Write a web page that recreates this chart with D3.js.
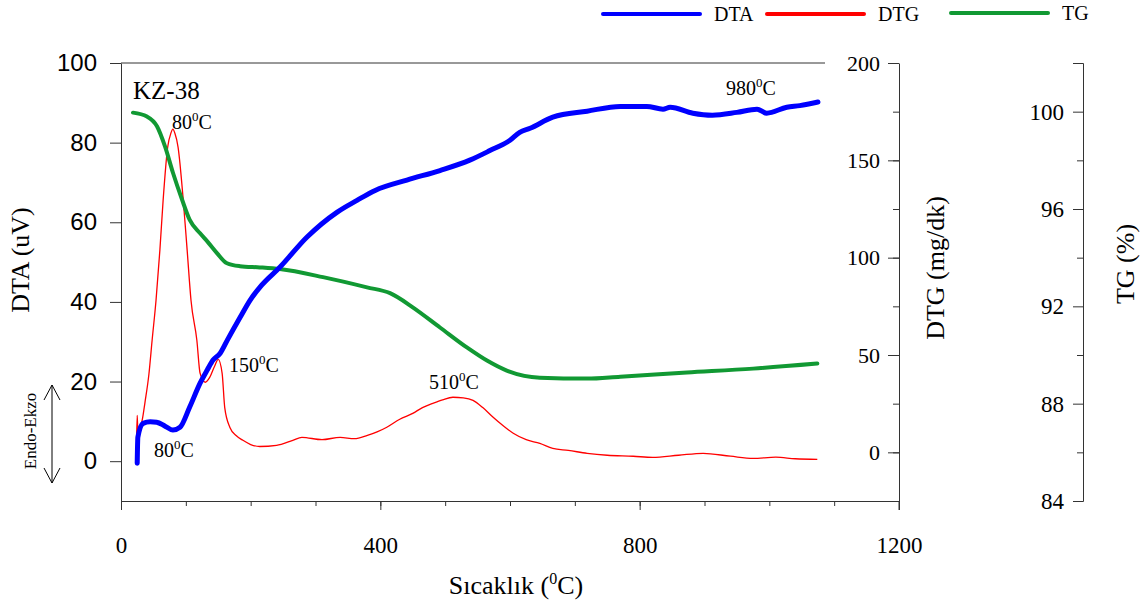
<!DOCTYPE html>
<html>
<head>
<meta charset="utf-8">
<script src="https://cdn.jsdelivr.net/npm/d3@7"></script>
<style>
  body { margin: 0; background: #fff; }
</style>
</head>
<body>
<div id="chart"></div>
<script>
// temperature (°C) and readings for each curve
const dtaTemp = [25, 26, 34, 45, 55, 68, 80, 91, 106, 122, 133, 142, 153, 164, 184, 199, 217, 245, 287, 333, 364, 392, 441, 492, 538, 569, 600, 615, 631, 666, 719, 770, 811, 836, 847, 882, 912, 950, 981, 996, 1027, 1047, 1075];
const dtaVal  = [-0.5, 6, 9.5, 9.9, 9.8, 8.8, 7.8, 8.5, 13.6, 19.6, 22.9, 25.4, 27.1, 30.4, 36.2, 40.4, 44.2, 48.7, 56.3, 62.5, 65.5, 68, 70.6, 73, 75.6, 78, 80.6, 82.6, 83.6, 86.4, 87.9, 89.1, 89.1, 88.4, 88.9, 87.4, 86.9, 87.6, 88.4, 87.4, 88.9, 89.3, 90.2];

const dtgTemp = [24, 25, 26, 29, 33, 37, 43, 48, 54, 60, 65, 72, 77, 80, 83, 88, 96, 102, 108, 117, 122, 130, 137, 144, 150, 156, 160, 168, 178, 188, 200, 214, 240, 265, 279, 310, 338, 360, 380, 395, 410, 430, 450, 465, 481, 496, 512, 528, 543, 558, 574, 590, 605, 625, 646, 666, 690, 719, 750, 790, 820, 860, 898, 940, 975, 1010, 1040, 1074];
const dtgVal  = [6, 19, 11, 12, 17, 25.7, 40, 57.6, 78, 104, 129.6, 156.8, 164, 166, 164, 156.8, 129.6, 104, 78, 57.6, 40.6, 36, 38.6, 44, 47.8, 40.6, 23, 12.8, 8.5, 6.2, 4, 3, 3.6, 6.2, 7.7, 6.5, 7.7, 7, 8.7, 10.5, 12.9, 17, 20, 23, 25.2, 27, 28.3, 28, 26.7, 23, 18, 13.5, 9.8, 6.5, 4.6, 2, 1, -0.5, -1.5, -2, -2.6, -1.5, -0.5, -2, -3.1, -2.5, -3.3, -3.6];

const tgTemp = [18.5, 40, 55.5, 68, 80, 94, 106, 122, 134, 148, 163.5, 183.5, 214, 245, 311.6, 379.5, 415, 450, 492, 534, 564.5, 595, 646, 719, 770, 873, 975, 1074];
const tgVal  = [99.96, 99.8, 99.4, 98.56, 97.5, 96.4, 95.55, 95.0, 94.64, 94.19, 93.77, 93.65, 93.6, 93.53, 93.2, 92.78, 92.54, 91.96, 91.13, 90.3, 89.77, 89.36, 89.07, 89.03, 89.11, 89.28, 89.44, 89.65];

const xTicks = [0, 400, 800, 1200];
const dtaTicks = [0, 20, 40, 60, 80, 100];
const dtgTicks = [0, 50, 100, 150, 200];
const tgTicks = [84, 88, 92, 96, 100];

const legendNames = ["DTA", "DTG", "TG"];
const legendColors = ["#0000ff", "#ff0000", "#119933"];

// peak labels
const peaks = [
  { text: "80", x: 172, y: 129 },
  { text: "150", x: 229, y: 372 },
  { text: "80", x: 154, y: 457 },
  { text: "510", x: 429, y: 389 },
  { text: "980", x: 726, y: 95 }
];

(function () {
  const width = 1140, height = 608;
  const mLeft = 121, mRight = 899, mTop = 63, mBottom = 501;
  const serif = "'Liberation Serif', 'Times New Roman', serif";
  const sans = "'Liberation Sans', Arial, sans-serif";

  const svg = d3.select("#chart").append("svg")
    .attr("width", width)
    .attr("height", height)
    .attr("font-family", serif);

  const x = d3.scaleLinear().domain([0, 1200]).range([mLeft, mRight]);
  const yDta = d3.scaleLinear().domain([-10, 100]).range([mBottom, mTop]);
  const yDtg = d3.scaleLinear().domain([-25, 200]).range([mBottom, mTop]);
  const yTg = d3.scaleLinear().domain([84, 102]).range([mBottom, mTop]);
  const fmt = d3.format("d");

  const styleAxis = (g, family, size) => {
    g.attr("font-family", family);
    g.selectAll("text").attr("font-size", size).attr("font-family", family).attr("fill", "#000");
  };

  // x axis
  svg.append("g")
    .attr("transform", `translate(0,${mBottom})`)
    .call(d3.axisBottom(x).tickValues(d3.range(0, 1201, 100)).tickSize(5).tickFormat(""))
    .call(g => g.select(".domain").remove());
  svg.append("g")
    .attr("transform", `translate(0,${mBottom})`)
    .call(d3.axisBottom(x).tickValues(xTicks).tickFormat(fmt).tickSize(9).tickSizeOuter(0).tickPadding(27))
    .call(g => styleAxis(g, serif, 23));

  // left DTA axis
  svg.append("g")
    .attr("transform", `translate(${mLeft},0)`)
    .call(d3.axisLeft(yDta).tickValues(dtaTicks).tickFormat(fmt).tickSize(11).tickSizeOuter(0).tickPadding(13))
    .call(g => styleAxis(g, sans, 24));

  // top border, stops short of DTG labels
  svg.append("line").attr("x1", mLeft).attr("x2", 825).attr("y1", mTop).attr("y2", mTop)
    .attr("stroke", "#333");

  // DTG axis (inside, at x = 1200)
  svg.append("g")
    .attr("transform", `translate(${mRight},0)`)
    .call(d3.axisLeft(yDtg).tickValues(d3.range(-25, 201, 25)).tickSize(6).tickFormat(""))
    .call(g => g.select(".domain").remove());
  svg.append("g")
    .attr("transform", `translate(${mRight},0)`)
    .call(d3.axisLeft(yDtg).tickValues(dtgTicks).tickFormat(fmt).tickSize(11).tickSizeOuter(0).tickPadding(8))
    .call(g => styleAxis(g, serif, 22));
  svg.append("line").attr("x1", mRight).attr("x2", mRight).attr("y1", mBottom).attr("y2", mBottom + 9)
    .attr("stroke", "#333");

  // TG axis
  const tgX = 1083;
  svg.append("g")
    .attr("transform", `translate(${tgX},0)`)
    .call(d3.axisLeft(yTg).tickValues(d3.range(86, 103, 4)).tickSize(6).tickFormat(""))
    .call(g => g.select(".domain").remove());
  svg.append("g")
    .attr("transform", `translate(${tgX},0)`)
    .call(d3.axisLeft(yTg).tickValues(tgTicks).tickFormat(fmt).tickSize(10).tickSizeOuter(10).tickPadding(9))
    .call(g => styleAxis(g, serif, 23));

  svg.selectAll(".domain, .tick line").attr("stroke", "#333");

  // axis titles
  svg.append("text").attr("transform", "translate(29,260) rotate(-90)")
    .attr("text-anchor", "middle").attr("font-size", 26).text("DTA (uV)");
  svg.append("text").attr("transform", "translate(944,268) rotate(-90)")
    .attr("text-anchor", "middle").attr("font-size", 26).text("DTG (mg/dk)");
  svg.append("text").attr("transform", "translate(1134,264) rotate(-90)")
    .attr("text-anchor", "middle").attr("font-size", 26).text("TG (%)");

  const xt = svg.append("text").attr("x", 516).attr("y", 594)
    .attr("text-anchor", "middle").attr("font-size", 26);
  xt.append("tspan").text("Sıcaklık (");
  xt.append("tspan").attr("font-size", 16).attr("dy", -10).text("0");
  xt.append("tspan").attr("dy", 10).text("C)");

  // Endo-Ekzo marker
  svg.append("text").attr("transform", "translate(36,431) rotate(-90)")
    .attr("text-anchor", "middle").attr("font-size", 17).text("Endo-Ekzo");
  const arr = svg.append("g").attr("stroke", "#000").attr("fill", "none").attr("stroke-width", 1);
  arr.append("line").attr("x1", 52).attr("x2", 52).attr("y1", 385).attr("y2", 483);
  arr.append("path").attr("d", "M44,400 L52,385 L60,400");
  arr.append("path").attr("d", "M44,468 L52,483 L60,468");

  // curves
  const lineOf = (xs, ys, yScale) => d3.line()
    .x((d, i) => x(xs[i]))
    .y((d, i) => yScale(ys[i]))
    .curve(d3.curveMonotoneX)(xs);

  svg.append("path").attr("d", lineOf(dtgTemp, dtgVal, yDtg))
    .attr("fill", "none").attr("stroke", legendColors[1]).attr("stroke-width", 1.3);
  svg.append("path").attr("d", lineOf(tgTemp, tgVal, yTg))
    .attr("fill", "none").attr("stroke", legendColors[2]).attr("stroke-width", 4).attr("stroke-linecap", "round");
  svg.append("path").attr("d", lineOf(dtaTemp, dtaVal, yDta))
    .attr("fill", "none").attr("stroke", legendColors[0]).attr("stroke-width", 5).attr("stroke-linecap", "round");

  // sample name
  svg.append("text").attr("x", 133).attr("y", 99).attr("font-size", 25).text("KZ-38");

  // peak labels
  peaks.forEach(p => {
    const t = svg.append("text").attr("x", p.x).attr("y", p.y).attr("font-size", 20);
    t.append("tspan").text(p.text);
    t.append("tspan").attr("font-size", 13).attr("dy", -8).text("0");
    t.append("tspan").attr("dy", 8).text("C");
  });

  // legend
  const legX = [603, 767, 951];
  const legY = [14, 14, 13];
  legendNames.forEach((n, i) => {
    svg.append("line").attr("x1", legX[i]).attr("x2", legX[i] + 97)
      .attr("y1", legY[i]).attr("y2", legY[i])
      .attr("stroke", legendColors[i]).attr("stroke-width", 4).attr("stroke-linecap", "round");
    svg.append("text").attr("x", legX[i] + 111).attr("y", legY[i] + 7)
      .attr("font-size", 20).text(n);
  });
})();
</script>
</body>
</html>
